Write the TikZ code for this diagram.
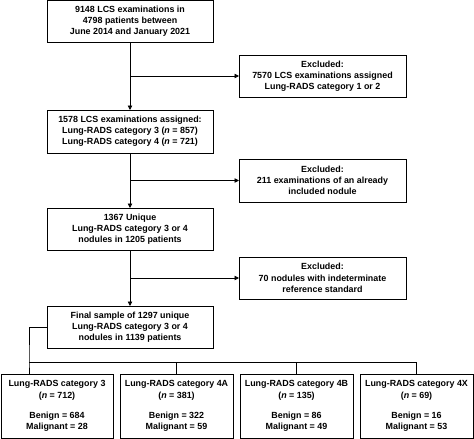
\documentclass[tikz,border=0pt]{standalone}
\usepackage{fontspec}
\setmainfont{Liberation Sans}
\usepackage{tikz}
\usetikzlibrary{positioning}
\usetikzlibrary{arrows.meta,calc}

\begin{document}
\begin{tikzpicture}[x=1pt,y=-1pt,>={Triangle[length=4.5pt,width=4.5pt]},
	every node/.style={inner sep=1,outer sep=0,font=\fontsize{8.9}{11.2}\selectfont\bfseries},
	box/.style={draw,line width=0.8pt,align=center,minimum width=166,minimum height=42},
	cat/.style={draw,line width=0.8pt,align=center,minimum width=112,minimum height=64},
	line width=0.8pt]
	\useasboundingbox (0,0) rectangle (474,439);
	\node[box] (all) at (130,21) {9148 LCS examinations in\\4798 patients between\\June 2014 and January 2021};
	\node[box,minimum width=167] (ex1) at (322.5,76) {Excluded:\\7570 LCS examinations assigned\\Lung-RADS category 1 or 2};
	\node[box,minimum height=43] (c34) at (130,131.5) {1578 LCS examinations assigned:\\Lung-RADS category 3 (\textit{n} = 857)\\Lung-RADS category 4 (\textit{n} = 721)};
	\node[box,minimum width=167,minimum height=43] (ex2) at (322.5,180.5) {Excluded:\\211 examinations of an already\\included nodule};
	\node[box] (uniq) at (130,229) {1367 Unique\\Lung-RADS category 3 or 4\\nodules in 1205 patients};
	\node[box,minimum width=167] (ex3) at (322.5,278) {Excluded:\\70 nodules with indeterminate\\reference standard};
	\node[box] (fin) at (130,327) {Final sample of 1297 unique\\Lung-RADS category 3 or 4\\nodules in 1139 patients};
	\node[cat] (r3) at (57,406) {Lung-RADS category 3\\(\textit{n} = 712)\\[9pt]Benign = 684\\Malignant = 28};
	\node[cat,minimum width=113] (r4a) at (176.5,406) {Lung-RADS category 4A\\(\textit{n} = 381)\\[9pt]Benign = 322\\Malignant = 59};
	\node[cat,minimum width=113] (r4b) at (296.5,406) {Lung-RADS category 4B\\(\textit{n} = 135)\\[9pt]Benign = 86\\Malignant = 49};
	\node[cat,minimum width=113] (r4x) at (416.5,406) {Lung-RADS category 4X\\(\textit{n} = 69)\\[9pt]Benign = 16\\Malignant = 53};
	\coordinate (bus) at (29,362);
	\path[->]
		(all) edge (c34)
		(c34) edge (uniq)
		(uniq) edge (fin);
	\draw[->] (all.south |- ex1.west) -- (ex1.west);
	\draw[->] (c34.south |- ex2.west) -- (ex2.west);
	\draw[->] (uniq.south |- ex3.west) -- (ex3.west);
	\draw (fin.west) -| (bus) -- (bus |- r3.north);
	\draw (bus) -- (bus -| r4x.north);
	\draw (bus -| r4a.north) -- (r4a.north);
	\draw (bus -| r4b.north) -- (r4b.north);
	\draw (bus -| r4x.north) -- (r4x.north);
\end{tikzpicture}
\end{document}
